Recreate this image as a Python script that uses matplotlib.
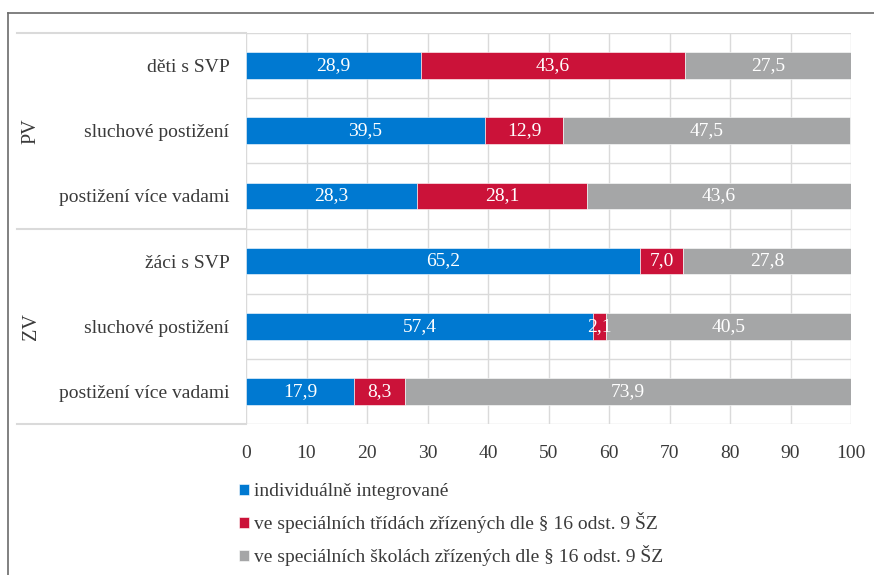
import matplotlib
matplotlib.use("Agg")
import matplotlib.pyplot as plt
from matplotlib.lines import Line2D

plt.rcParams['font.family'] = ['Liberation Serif', 'DejaVu Serif']

categories = ["děti s SVP", "sluchové postižení", "postižení více vadami",
              "žáci s SVP", "sluchové postižení", "postižení více vadami"]
groups = ["PV", "ZV"]
group_sizes = [3, 3]
series_names = ["individuálně integrované",
                "ve speciálních třídách zřízených dle § 16 odst. 9 ŠZ",
                "ve speciálních školách zřízených dle § 16 odst. 9 ŠZ"]
individual = [28.9, 39.5, 28.3, 65.2, 57.4, 17.9]
classes = [43.6, 12.9, 28.1, 7.0, 2.1, 8.3]
schools = [27.5, 47.5, 43.6, 27.8, 40.5, 73.9]
xticks = [0, 10, 20, 30, 40, 50, 60, 70, 80, 90, 100]

colors = ["#0079D1", "#CB1239", "#A5A6A7"]
text_c = "#3A3A3A"
W, H = 874, 575
fig = plt.figure(figsize=(W / 100, H / 100), dpi=100)
ax = fig.add_axes([246 / W, 1 - 424 / H, 605 / W, 391 / H])

grid_c = "#DADADA"
ypos = list(range(len(categories)))
left = [0.0] * len(categories)
for vals, col, name in zip([individual, classes, schools], colors, series_names):
    bars = ax.barh(ypos, vals, left=left, height=0.41, color=col, label=name,
                   edgecolor="white", linewidth=0.4, zorder=3)
    for b, v in zip(bars, vals):
        ax.text(b.get_x() + b.get_width() / 2, b.get_y() + b.get_height() / 2,
                f"{v:.1f}".replace(".", ","), ha="center", va="center",
                color="white", fontsize=14, zorder=4)
    left = [l + v for l, v in zip(left, vals)]

ax.set_xlim(0, 100)
ax.set_ylim(len(categories) - 0.5, -0.5)
ax.set_xticks(xticks)
ax.set_xticklabels([str(t) for t in xticks], fontsize=14, color=text_c)
ax.set_yticks(ypos)
ax.set_yticklabels(categories, fontsize=14, color=text_c)
ax.tick_params(axis="both", length=0)
ax.tick_params(axis="x", pad=15)
ax.tick_params(axis="y", pad=12)
for s in ax.spines.values():
    s.set_visible(False)

# vertical gridlines
for t in xticks:
    ax.axvline(t, color=grid_c, linewidth=1, zorder=1)
# horizontal separators between categories
for k in range(len(categories) + 1):
    ax.axhline(k - 0.5, color=grid_c, linewidth=1, zorder=1)

# group separators extended to the left
tr = ax.get_yaxis_transform()
bounds = [-0.5]
for g in group_sizes:
    bounds.append(bounds[-1] + g)
for b in bounds:
    ax.plot([-0.3785, 0], [b, b], transform=tr, color=grid_c, linewidth=1.5,
            clip_on=False, zorder=1)
start = -0.5
for g, n in zip(groups, group_sizes):
    ax.text(-0.355, start + n / 2, g, transform=tr, rotation=90, ha="center",
            va="center", fontsize=14.5, color=text_c)
    start += n

leg = fig.legend(loc="upper left", bbox_to_anchor=(239 / W, 1 - 483 / H),
                 frameon=False, fontsize=14, handlelength=0.5,
                 handleheight=0.5, handletextpad=0.25, labelspacing=0.63,
                 borderaxespad=0, borderpad=0)
for t in leg.get_texts():
    t.set_color(text_c)

# figure border (top and left)
fig.add_artist(Line2D([8 / W, 1], [1 - 13 / H, 1 - 13 / H], color="#6B6B6B",
                      linewidth=1.2, transform=fig.transFigure))
fig.add_artist(Line2D([8 / W, 8 / W], [0, 1 - 13 / H], color="#6B6B6B",
                      linewidth=1.2, transform=fig.transFigure))

fig.savefig("out.png", dpi=100)
